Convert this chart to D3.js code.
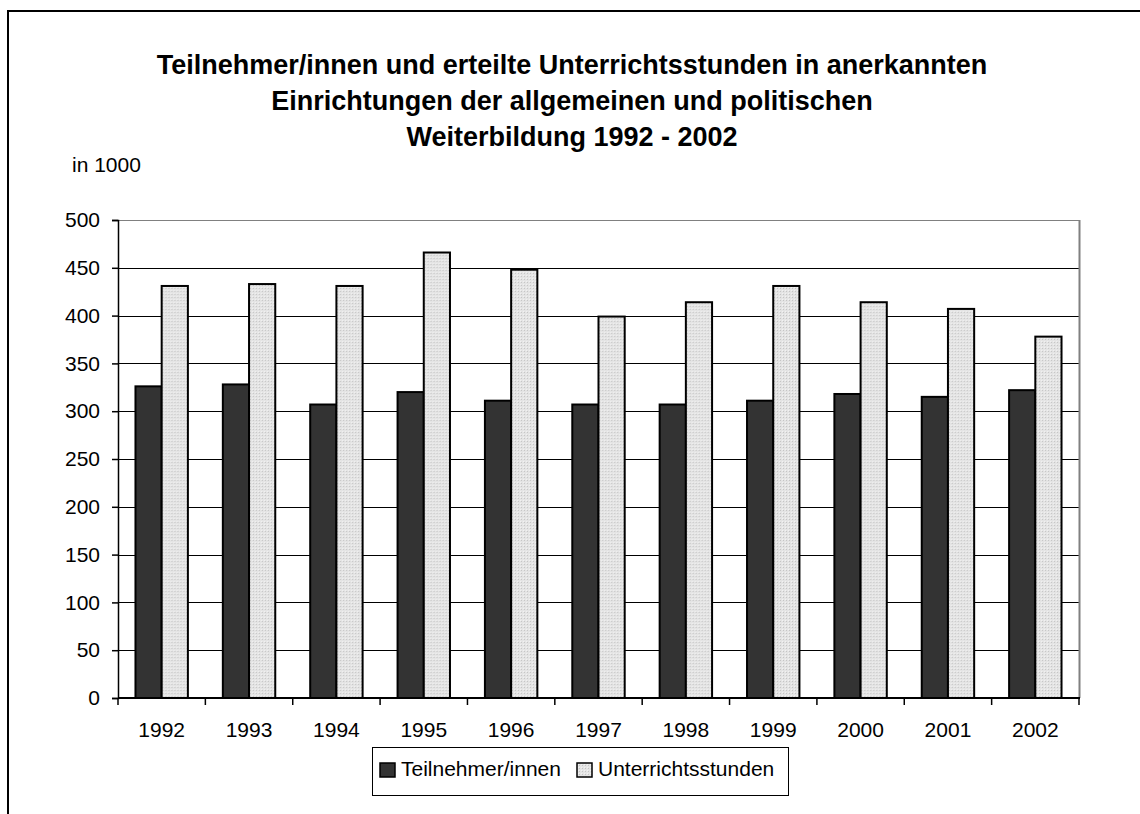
<!DOCTYPE html>
<html>
<head>
<meta charset="utf-8">
<script src="https://cdn.jsdelivr.net/npm/d3@7"></script>
<style>
  body { margin: 0; background: #fff; }
  svg { font-family: "Liberation Sans", Arial, sans-serif; }
</style>
</head>
<body>
<svg id="chart" width="1140" height="814"></svg>
<script>
const years = ["1992", "1993", "1994", "1995", "1996", "1997", "1998", "1999", "2000", "2001", "2002"];
const teilnehmer = [326, 328, 307, 320, 311, 307, 307, 311, 318, 315, 322];
const stunden = [431, 433, 431, 466, 448, 399, 414, 431, 414, 407, 378];
const seriesNames = ["Teilnehmer/innen", "Unterrichtsstunden"];
const yTicks = [0, 50, 100, 150, 200, 250, 300, 350, 400, 450, 500];
const titleLines = [
  "Teilnehmer/innen und erteilte Unterrichtsstunden in anerkannten",
  "Einrichtungen der allgemeinen und politischen",
  "Weiterbildung 1992 - 2002"
];

const svg = d3.select("#chart");

// pattern for the light bars (dotted grey like the original)
const defs = svg.append("defs");
const pat = defs.append("pattern")
  .attr("id", "dots")
  .attr("width", 3).attr("height", 3)
  .attr("patternUnits", "userSpaceOnUse");
pat.append("rect").attr("width", 3).attr("height", 3).attr("fill", "#e4e4e4");
pat.append("rect").attr("x", 0).attr("y", 0).attr("width", 1).attr("height", 1).attr("fill", "#c4c4c4");
pat.append("rect").attr("x", 2).attr("y", 2).attr("width", 1).attr("height", 1).attr("fill", "#f2f2f2");

const colors = ["#333333", "url(#dots)"];

// outer frame (cut off at the right and bottom)
svg.append("rect")
  .attr("x", 8).attr("y", 11)
  .attr("width", 1160).attr("height", 840)
  .attr("fill", "none")
  .attr("stroke", "#000")
  .attr("stroke-width", 2);

const plot = { left: 118, right: 1079, top: 220, bottom: 698 };

const x0 = d3.scaleBand()
  .domain(years)
  .range([plot.left, plot.right])
  .paddingInner(0.4)
  .paddingOuter(0.2);

const x1 = d3.scaleBand()
  .domain([0, 1])
  .range([0, x0.bandwidth()]);

const y = d3.scaleLinear()
  .domain([0, 500])
  .range([plot.bottom, plot.top]);

// gridlines
svg.append("g")
  .selectAll("line")
  .data(yTicks.filter(d => d > 0))
  .join("line")
  .attr("x1", plot.left).attr("x2", plot.right)
  .attr("y1", d => Math.round(y(d)) + 0.5)
  .attr("y2", d => Math.round(y(d)) + 0.5)
  .attr("stroke", d => d === 500 ? "#808080" : "#000")
  .attr("stroke-width", 1);

// right border of plot area
svg.append("line")
  .attr("x1", plot.right + 0.5).attr("x2", plot.right + 0.5)
  .attr("y1", plot.top).attr("y2", plot.bottom)
  .attr("stroke", "#808080")
  .attr("stroke-width", 2);

// bars
const data = years.map((yr, i) => ({ year: yr, values: [teilnehmer[i], stunden[i]] }));

svg.append("g")
  .selectAll("g")
  .data(data)
  .join("g")
  .attr("transform", d => `translate(${x0(d.year)},0)`)
  .selectAll("rect")
  .data(d => d.values.map((v, k) => ({ k, v })))
  .join("rect")
  .attr("x", d => x1(d.k))
  .attr("width", x1.bandwidth())
  .attr("y", d => y(d.v))
  .attr("height", d => y(0) - y(d.v))
  .attr("fill", d => colors[d.k])
  .attr("stroke", "#000")
  .attr("stroke-width", 2);

// y axis
const yAxis = svg.append("g")
  .attr("transform", `translate(${plot.left},0)`)
  .call(d3.axisLeft(y).tickValues(yTicks).tickSize(6).tickPadding(12));
yAxis.selectAll("text")
  .attr("font-size", 21)
  .attr("font-family", "Liberation Sans, Arial, sans-serif")
  .attr("fill", "#000");
yAxis.selectAll("line, path").attr("stroke", "#000").attr("stroke-width", 1.5);

// x axis: ticks at the category boundaries
const xAxis = svg.append("g")
  .attr("transform", `translate(0,${plot.bottom})`);
xAxis.append("line")
  .attr("x1", plot.left).attr("x2", plot.right + 1)
  .attr("stroke", "#000").attr("stroke-width", 2);
const bounds = years.map(yr => x0(yr) - x0.step() * x0.paddingInner() / 2);
bounds[0] = plot.left;
bounds.push(plot.right);
xAxis.selectAll("line.tick")
  .data(bounds)
  .join("line")
  .attr("class", "tick")
  .attr("x1", d => d).attr("x2", d => d)
  .attr("y1", 0).attr("y2", 7)
  .attr("stroke", "#000").attr("stroke-width", 1.5);
xAxis.selectAll("text")
  .data(years)
  .join("text")
  .attr("x", d => x0(d) + x0.bandwidth() / 2)
  .attr("y", 39)
  .attr("text-anchor", "middle")
  .attr("font-size", 21)
  .text(d => d);

// title
svg.append("g")
  .selectAll("text")
  .data(titleLines)
  .join("text")
  .attr("x", 572)
  .attr("y", (d, i) => 74 + i * 36)
  .attr("text-anchor", "middle")
  .attr("font-size", 27)
  .attr("font-weight", "bold")
  .text(d => d);

// unit label
svg.append("text")
  .attr("x", 72).attr("y", 172)
  .attr("font-size", 21)
  .text("in 1000");

// legend
const legend = svg.append("g");
legend.append("rect")
  .attr("x", 372.5).attr("y", 747.5)
  .attr("width", 416).attr("height", 48)
  .attr("fill", "#fff")
  .attr("stroke", "#000")
  .attr("stroke-width", 1);
const legendX = [380, 577];
seriesNames.forEach((name, k) => {
  legend.append("rect")
    .attr("x", legendX[k]).attr("y", 763)
    .attr("width", 15).attr("height", 14)
    .attr("fill", colors[k])
    .attr("stroke", "#000")
    .attr("stroke-width", 1.5);
  legend.append("text")
    .attr("x", legendX[k] + 21).attr("y", 776)
    .attr("font-size", 21)
    .text(name);
});
</script>
</body>
</html>
